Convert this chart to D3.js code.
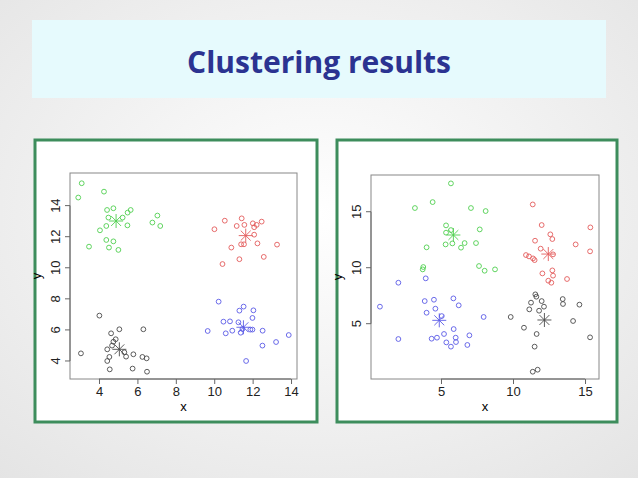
<!DOCTYPE html><html><head><meta charset="utf-8">
<script src="https://cdn.jsdelivr.net/npm/d3@7"></script>
<style>body{margin:0;}svg{display:block;}</style></head><body>
<script>
// Left panel data: [x, y]
const leftGreen=[[3.10,15.44],[2.92,14.52],[4.26,14.9],[4.42,13.72],[4.75,13.83],[4.49,13.23],[5.23,13.23],[5.49,13.55],[5.65,13.72],[4.38,12.69],[5.48,12.73],[4.05,12.41],[6.78,12.91],[7.04,13.36],[7.19,12.69],[3.48,11.36],[4.38,11.79],[4.75,11.70],[4.52,11.30],[5.01,11.15]];
const leftRed=[[10.01,12.48],[10.55,13.03],[11.43,13.18],[11.17,12.69],[11.57,12.76],[12.01,12.86],[12.21,12.76],[12.47,12.97],[12.08,12.61],[10.89,11.30],[11.40,11.51],[11.55,11.51],[12.08,12.13],[12.25,11.57],[13.27,11.49],[11.31,10.55],[10.43,10.24],[12.58,10.70]];
const leftBlue=[[10.23,7.82],[11.53,7.50],[11.31,7.24],[12.04,7.26],[10.48,6.53],[10.82,6.55],[11.26,6.49],[11.99,6.77],[9.66,5.93],[10.60,5.78],[10.94,5.95],[11.38,5.82],[11.47,6.06],[11.88,6.02],[11.99,6.02],[12.52,5.95],[13.88,5.67],[13.22,5.22],[12.51,4.99],[11.66,4.0]];
const leftBlack=[[4.02,6.92],[3.06,4.49],[4.63,5.78],[5.06,6.04],[6.31,6.04],[4.87,5.40],[4.75,5.24],[4.68,4.99],[4.43,4.75],[4.54,4.26],[4.43,4.0],[4.56,3.46],[5.32,4.56],[5.41,4.28],[5.79,4.43],[6.26,4.26],[6.48,4.17],[5.75,3.51],[6.5,3.31]];
const leftCenters=[[4.89,13.01],[11.64,12.07],[11.52,6.17],[5.06,4.75]];
// Right panel data
const rightGreen=[[5.69,17.53],[4.42,15.86],[3.19,15.33],[7.08,15.33],[8.10,15.06],[5.35,13.78],[5.69,13.36],[5.35,13.13],[7.69,13.42],[4.0,11.82],[5.32,12.08],[5.79,12.17],[6.39,11.79],[6.64,12.20],[7.43,12.20],[3.77,10.06],[3.73,9.85],[7.64,10.15],[8.03,9.73],[8.75,9.85]];
const rightRed=[[11.37,15.65],[11.99,13.81],[15.37,13.60],[11.53,12.41],[12.59,12.98],[12.73,12.56],[14.35,12.08],[11.92,11.70],[12.78,11.19],[10.90,11.13],[11.11,11.01],[11.39,10.83],[11.50,10.68],[15.35,11.46],[12.73,9.76],[12.04,9.49],[12.78,9.29],[13.75,8.99],[12.45,8.84],[12.66,8.66]];
const rightBlue=[[0.76,6.52],[2.04,8.66],[3.94,9.05],[3.87,7.02],[4.51,7.14],[5.86,7.26],[4.0,5.98],[4.61,6.34],[6.23,6.64],[5.05,5.68],[7.96,5.60],[2.04,3.63],[4.35,3.66],[4.72,3.75],[5.21,4.08],[5.88,4.52],[6.02,3.75],[6.97,3.96],[5.37,3.33],[6.04,3.36],[5.69,2.95],[6.83,3.10]];
const rightBlack=[[11.55,7.62],[11.62,7.41],[11.25,6.88],[11.99,7.02],[12.15,6.52],[13.45,7.20],[13.47,6.76],[14.61,6.70],[11.13,6.28],[11.81,6.16],[9.84,5.60],[10.76,4.64],[14.17,5.24],[11.64,4.08],[15.35,3.78],[11.50,2.95],[11.37,0.71],[11.71,0.89]];
const rightCenters=[[5.86,12.92],[12.45,11.22],[4.88,5.30],[12.18,5.33]];
const leftXTicks=[4,6,8,10,12,14], leftYTicks=[4,6,8,10,12,14];
const rightXTicks=[5,10,15], rightYTicks=[5,10,15];
const title="Clustering results";

const W=638,H=478;
const svg=d3.select("body").append("svg").attr("width",W).attr("height",H);
const defs=svg.append("defs");
const g=defs.append("radialGradient").attr("id","bg").attr("cx","50%").attr("cy","45%").attr("r","75%");
g.append("stop").attr("offset","0%").attr("stop-color","#ffffff");
g.append("stop").attr("offset","100%").attr("stop-color","#e4e4e4");
svg.append("rect").attr("width",W).attr("height",H).attr("fill","url(#bg)");
svg.append("rect").attr("x",32).attr("y",20).attr("width",574).attr("height",78).attr("fill","#e6fafd");
svg.append("text").attr("x",319).attr("y",73).attr("text-anchor","middle").attr("font-family","Open Sans, Lato, sans-serif").attr("font-weight","bold").attr("font-size",30).attr("fill","#2b3391").text(title);

const COL={g:"#4fcf4f",r:"#e35b5b",b:"#5a5ae6",k:"#4a4a4a"};
const FF="Liberation Sans, Arial, sans-serif";
function panel(fx,fw,box,xd,yd,xt,yt,series,centers){
  svg.append("rect").attr("x",fx).attr("y",140).attr("width",fw).attr("height",282).attr("fill","#fff").attr("stroke","#3d8d5c").attr("stroke-width",3);
  const x=d3.scaleLinear().domain(xd).range([box[0],box[1]]);
  const y=d3.scaleLinear().domain(yd).range([box[3],box[2]]);
  svg.append("rect").attr("x",box[0]).attr("y",box[2]).attr("width",box[1]-box[0]).attr("height",box[3]-box[2]).attr("fill","none").attr("stroke","#888").attr("stroke-width",1);
  const ax=svg.append("g").attr("transform",`translate(0,${box[3]})`).call(d3.axisBottom(x).tickValues(xt).tickSize(5).tickPadding(3));
  const ay=svg.append("g").attr("transform",`translate(${box[0]},0)`).call(d3.axisLeft(y).tickValues(yt).tickSize(5).tickPadding(2));
  [ax,ay].forEach(a=>{a.select(".domain").remove();a.selectAll("line").attr("stroke","#666");a.selectAll("text").attr("font-family",FF).attr("font-size",13).attr("fill","#222");});
  ax.append("line").attr("x1",x(xt[0])).attr("x2",x(xt[xt.length-1])).attr("stroke","#666");
  ay.append("line").attr("y1",y(yt[0])).attr("y2",y(yt[yt.length-1])).attr("stroke","#666");
  ay.selectAll(".tick").attr("transform",null);
  ay.selectAll(".tick line").attr("y1",d=>y(d)).attr("y2",d=>y(d));
  ay.selectAll(".tick text").attr("text-anchor","middle").attr("x",null).attr("dy","0.35em").attr("y",0)
    .attr("transform",d=>`translate(-15,${y(d)}) rotate(-90)`);
  svg.append("text").attr("x",(box[0]+box[1])/2).attr("y",box[3]+32).attr("text-anchor","middle").attr("font-family",FF).attr("font-size",13).text("x");
  svg.append("text").attr("transform",`translate(${box[0]-29},${(box[2]+box[3])/2}) rotate(-90)`).attr("text-anchor","middle").attr("font-family",FF).attr("font-size",13).text("y");
  series.forEach(([data,c])=>{
    svg.append("g").selectAll("circle").data(data).join("circle").attr("cx",d=>x(d[0])).attr("cy",d=>y(d[1])).attr("r",2.4).attr("fill","none").attr("stroke",c).attr("stroke-width",0.9);
  });
  centers.forEach(([d,c])=>{
    const s=svg.append("g").attr("transform",`translate(${x(d[0])},${y(d[1])})`).attr("stroke",c).attr("stroke-width",0.9);
    [0,45,90,135].forEach(a=>{const r=a*Math.PI/180;s.append("line").attr("x1",-7*Math.cos(r)).attr("y1",-7*Math.sin(r)).attr("x2",7*Math.cos(r)).attr("y2",7*Math.sin(r));});
  });
}
panel(35,282,[70,297,173,379],[2.49,14.31],[2.84,16.1],leftXTicks,leftYTicks,
  [[leftGreen,COL.g],[leftRed,COL.r],[leftBlue,COL.b],[leftBlack,COL.k]],
  [[leftCenters[0],COL.g],[leftCenters[1],COL.r],[leftCenters[2],COL.b],[leftCenters[3],COL.k]]);
panel(337,280,[371,599,175,379],[0.14,15.97],[0.06,18.28],rightXTicks,rightYTicks,
  [[rightGreen,COL.g],[rightRed,COL.r],[rightBlue,COL.b],[rightBlack,COL.k]],
  [[rightCenters[0],COL.g],[rightCenters[1],COL.r],[rightCenters[2],COL.b],[rightCenters[3],COL.k]]);
</script></body></html>
